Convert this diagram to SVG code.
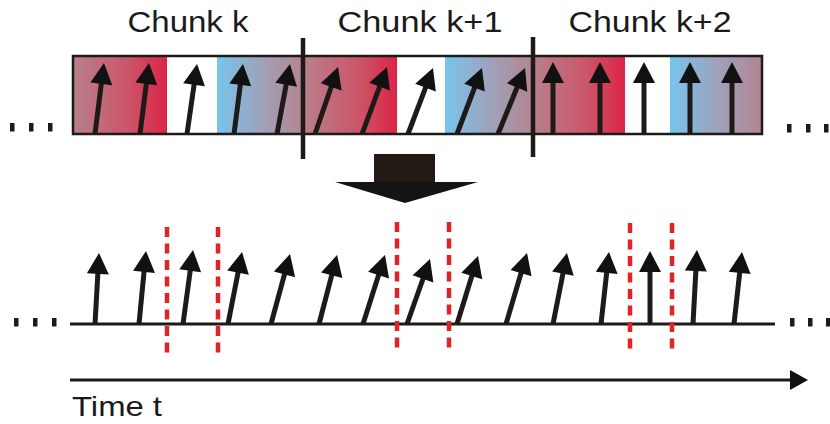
<svg xmlns="http://www.w3.org/2000/svg" width="830" height="424" viewBox="0 0 830 424">
  <style>
    .title { font-family: "Liberation Sans", Arial, sans-serif; font-size: 29px; fill: #1a1a1a; text-anchor: middle; }
    .label { font-family: "Liberation Sans", Arial, sans-serif; font-size: 28px; fill: #1a1a1a; }
    .shaft { stroke: #1e1a18; stroke-width: 5; fill: none; marker-end: url(#head); }
    .cut { stroke: #1e1a18; stroke-width: 4.5; }
    .split { stroke: #e02424; stroke-width: 4.5; stroke-dasharray: 10 6.5; fill: none; }
    .dot { fill: #1e1a18; }
    .white { fill: #ffffff; }
  </style>
  <defs>
    <linearGradient id="warm" x1="0" y1="0" x2="1" y2="0">
      <stop offset="0" stop-color="#b8808c"/>
      <stop offset="0.6" stop-color="#cc5468"/>
      <stop offset="1" stop-color="#dc2446"/>
    </linearGradient>
    <linearGradient id="cool" x1="0" y1="0" x2="1" y2="0">
      <stop offset="0" stop-color="#78c4ec"/>
      <stop offset="0.55" stop-color="#a0a0b8"/>
      <stop offset="1" stop-color="#b48490"/>
    </linearGradient>
    <marker id="head" markerUnits="userSpaceOnUse" markerWidth="24" markerHeight="24" viewBox="0 -12 22 24" refX="3" refY="0" orient="auto">
      <path d="M0,-11 L21,0 L0,11 Z" fill="#111111"/>
    </marker>
    <marker id="axisHead" markerUnits="userSpaceOnUse" markerWidth="20" markerHeight="22" viewBox="0 -11 20 22" refX="2" refY="0" orient="auto">
      <path d="M0,-10 L18,0 L0,10 Z" fill="#111111"/>
    </marker>
  </defs>

  <!-- chunk titles -->
  <g id="titles">
    <text class="title" x="188" y="32" textLength="121" lengthAdjust="spacingAndGlyphs">Chunk k</text>
    <text class="title" x="420" y="32" textLength="165" lengthAdjust="spacingAndGlyphs">Chunk k+1</text>
    <text class="title" x="650" y="32" textLength="163" lengthAdjust="spacingAndGlyphs">Chunk k+2</text>
  </g>

  <!-- signal band split into chunks -->
  <g id="band">
    <rect x="73" y="56" width="94" height="78" fill="url(#warm)"/>
    <rect x="167" y="56" width="50" height="78" class="white"/>
    <rect x="217" y="56" width="86" height="78" fill="url(#cool)"/>
    <rect x="303" y="56" width="94" height="78" fill="url(#warm)"/>
    <rect x="397" y="56" width="48" height="78" class="white"/>
    <rect x="445" y="56" width="88" height="78" fill="url(#cool)"/>
    <rect x="533" y="56" width="92" height="78" fill="url(#warm)"/>
    <rect x="625" y="56" width="45" height="78" class="white"/>
    <rect x="670" y="56" width="92" height="78" fill="url(#cool)"/>
    <rect x="73" y="56" width="689" height="78" fill="none" stroke="#1e1a18" stroke-width="2.5"/>
  </g>

  <g id="chunk-boundaries">
    <line class="cut" x1="303" y1="38" x2="303" y2="159"/>
    <line class="cut" x1="533" y1="37" x2="533" y2="157"/>
  </g>

  <!-- arrows inside the band -->
  <g id="band-arrows">
    <line class="shaft" x1="95" y1="134" x2="101.7" y2="80.9"/>
    <line class="shaft" x1="140" y1="134" x2="146.7" y2="80.9"/>
    <line class="shaft" x1="187" y1="134" x2="194.5" y2="81.8"/>
    <line class="shaft" x1="234" y1="134" x2="240.7" y2="81.9"/>
    <line class="shaft" x1="277" y1="134" x2="286.7" y2="81.7"/>
    <line class="shaft" x1="315" y1="134" x2="332.2" y2="84.0"/>
    <line class="shaft" x1="362" y1="134" x2="380.7" y2="83.9"/>
    <line class="shaft" x1="408" y1="134" x2="426.6" y2="84.8"/>
    <line class="shaft" x1="457" y1="134" x2="475.6" y2="84.8"/>
    <line class="shaft" x1="498" y1="134" x2="518.2" y2="84.7"/>
    <line class="shaft" x1="553" y1="134" x2="553" y2="80"/>
    <line class="shaft" x1="600" y1="134" x2="600" y2="80"/>
    <line class="shaft" x1="644" y1="134" x2="644" y2="80"/>
    <line class="shaft" x1="690" y1="134" x2="690" y2="80"/>
    <line class="shaft" x1="732" y1="134" x2="732" y2="80"/>
  </g>

  <!-- continuation dots -->
  <g id="dots">
    <rect class="dot" x="10" y="123" width="4.5" height="8.5"/>
    <rect class="dot" x="29" y="123" width="4.5" height="8.5"/>
    <rect class="dot" x="48" y="123" width="4.5" height="8.5"/>
    <rect class="dot" x="787" y="124" width="4.5" height="8.5"/>
    <rect class="dot" x="806" y="124" width="4.5" height="8.5"/>
    <rect class="dot" x="824" y="124" width="4.5" height="8.5"/>
    <rect class="dot" x="14" y="318" width="4.5" height="8.5"/>
    <rect class="dot" x="33" y="318" width="4.5" height="8.5"/>
    <rect class="dot" x="52" y="318" width="4.5" height="8.5"/>
    <rect class="dot" x="790" y="318" width="4.5" height="8.5"/>
    <rect class="dot" x="808" y="318" width="4.5" height="8.5"/>
    <rect class="dot" x="826" y="318" width="4.5" height="8.5"/>
  </g>

  <!-- big down arrow -->
  <g id="transform-arrow">
    <rect x="374" y="154" width="61" height="29" fill="#231a16"/>
    <polygon points="335,182 478,182 405,203" fill="#141414"/>
  </g>

  <!-- merged sequence on the time line -->
  <g id="sequence">
    <line x1="70" y1="324" x2="775" y2="324" stroke="#1e1a18" stroke-width="3"/>
    <line class="shaft" x1="95" y1="324" x2="98.0" y2="271.0"/>
    <line class="shaft" x1="139" y1="324" x2="144.3" y2="268.9"/>
    <line class="shaft" x1="183" y1="324" x2="190.6" y2="267.8"/>
    <line class="shaft" x1="228" y1="324" x2="238.6" y2="269.7"/>
    <line class="shaft" x1="271" y1="324" x2="285.3" y2="271.4"/>
    <line class="shaft" x1="319" y1="324" x2="332.5" y2="272.4"/>
    <line class="shaft" x1="363" y1="324" x2="379.5" y2="272.2"/>
    <line class="shaft" x1="407" y1="324" x2="424.0" y2="276.0"/>
    <line class="shaft" x1="457" y1="324" x2="472.7" y2="273.2"/>
    <line class="shaft" x1="506" y1="324" x2="521.9" y2="270.3"/>
    <line class="shaft" x1="553" y1="324" x2="563.5" y2="270.7"/>
    <line class="shaft" x1="601" y1="324" x2="607.0" y2="269.9"/>
    <line class="shaft" x1="650" y1="324" x2="650" y2="269"/>
    <line class="shaft" x1="693" y1="324" x2="696.0" y2="268.0"/>
    <line class="shaft" x1="734" y1="324" x2="740.0" y2="269.9"/>
  </g>

  <!-- splice points -->
  <g id="splices">
    <line class="split" x1="167" y1="227" x2="167" y2="356"/>
    <line class="split" x1="218" y1="227" x2="218" y2="356"/>
    <line class="split" x1="397" y1="222" x2="397" y2="350"/>
    <line class="split" x1="449" y1="222" x2="449" y2="350"/>
    <line class="split" x1="630" y1="223" x2="630" y2="350"/>
    <line class="split" x1="672" y1="223" x2="672" y2="350"/>
  </g>

  <!-- time axis -->
  <g id="time-axis">
    <line x1="70" y1="380" x2="792" y2="380" stroke="#1e1a18" stroke-width="3" marker-end="url(#axisHead)"/>
    <text class="label" x="72" y="416" textLength="90" lengthAdjust="spacingAndGlyphs">Time t</text>
  </g>
</svg>
